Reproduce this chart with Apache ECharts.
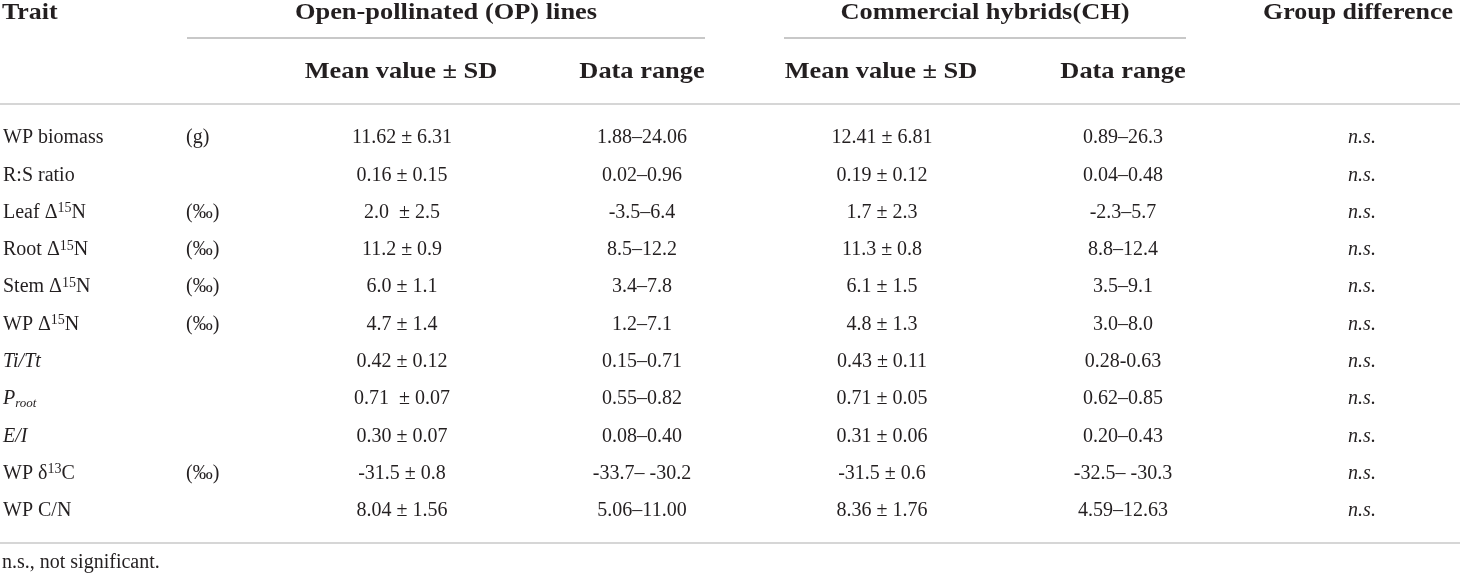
<!DOCTYPE html>
<html><head><meta charset="utf-8">
<script src="https://cdn.jsdelivr.net/npm/echarts@6/dist/echarts.min.js"></script>
<style>html,body{margin:0;padding:0;background:#fff}#c{width:1460px;height:577px}</style>
</head><body><div id="c"></div>
<script>
// ---- table content ----
const traits = ['WP biomass','R:S ratio','Leaf Δ{sup|15}N','Root Δ{sup|15}N','Stem Δ{sup|15}N','WP Δ{sup|15}N','{it|Ti/Tt}','{it|P}{sub|root}','{it|E/I}','WP δ{sup|13}C','WP C/N'];
const units = ['(g)','','(‰)','(‰)','(‰)','(‰)','','','','(‰)',''];
const opMean = ['11.62 ± 6.31','0.16 ± 0.15','2.0  ± 2.5','11.2 ± 0.9','6.0 ± 1.1','4.7 ± 1.4','0.42 ± 0.12','0.71  ± 0.07','0.30 ± 0.07','-31.5 ± 0.8','8.04 ± 1.56'];
const opRange = ['1.88–24.06','0.02–0.96','-3.5–6.4','8.5–12.2','3.4–7.8','1.2–7.1','0.15–0.71','0.55–0.82','0.08–0.40','-33.7– -30.2','5.06–11.00'];
const chMean = ['12.41 ± 6.81','0.19 ± 0.12','1.7 ± 2.3','11.3 ± 0.8','6.1 ± 1.5','4.8 ± 1.3','0.43 ± 0.11','0.71 ± 0.05','0.31 ± 0.06','-31.5 ± 0.6','8.36 ± 1.76'];
const chRange = ['0.89–26.3','0.04–0.48','-2.3–5.7','8.8–12.4','3.5–9.1','3.0–8.0','0.28-0.63','0.62–0.85','0.20–0.43','-32.5– -30.3','4.59–12.63'];
const groupDiff = ['n.s.','n.s.','n.s.','n.s.','n.s.','n.s.','n.s.','n.s.','n.s.','n.s.','n.s.'];
const groupHeaders = ['Open-pollinated (OP) lines','Commercial hybrids(CH)'];
const subHeaders = ['Mean value ± SD','Data range','Mean value ± SD','Data range'];
const footnote = 'n.s., not significant.';

// ---- layout ----
const columnsData = [traits, units, opMean, opRange, chMean, chRange, groupDiff];
const columns = [
  {x: 3, align: 'left'},
  {x: 186, align: 'left'},
  {x: 402, align: 'center'},
  {x: 642, align: 'center'},
  {x: 882, align: 'center'},
  {x: 1123, align: 'center'},
  {x: 1362, align: 'center', italic: true}
];
const FONT = '"Liberation Serif", "Times New Roman", serif';
const INK = '#231f20';
const RULE = '#c8c8c8';
const BODY = 20;

const rich = {
  sup: {fontFamily: FONT, fontSize: 14, lineHeight: 15, verticalAlign: 'top', fill: INK},
  sub: {fontFamily: FONT, fontSize: 13, fontStyle: 'italic', lineHeight: 8, verticalAlign: 'bottom', fill: INK},
  it: {fontFamily: FONT, fontSize: BODY, fontStyle: 'italic', lineHeight: 22, fill: INK}
};

const cells = [];
columnsData.forEach((col, c) => {
  col.forEach((t, r) => { if (t !== '') cells.push([columns[c].x, r, c]); });
});

const chart = echarts.init(document.getElementById('c'), null, {renderer: 'canvas'});

function bold(x, y, text, align, sx) {
  return {type: 'text', x: x, y: y, scaleX: sx, style: {text: text, x: 0, y: 0, align: align, verticalAlign: 'middle',
    fontFamily: FONT, fontWeight: 'bold', fontSize: 24, fill: INK}};
}
function rule(x1, x2, y, w) {
  return {type: 'line', shape: {x1: x1, y1: y, x2: x2, y2: y}, style: {stroke: RULE, lineWidth: w}};
}

chart.setOption({
  animation: false,
  backgroundColor: '#fff',
  grid: {left: 0, right: 0, top: 118.35, bottom: 48.35},
  xAxis: {type: 'value', min: 0, max: 1460, show: false},
  yAxis: {type: 'category', data: traits, inverse: true, show: false},
  graphic: [
    bold(2, 13, 'Trait', 'left', 1.08),
    bold(446, 13, groupHeaders[0], 'center', 1.1),
    bold(985, 13, groupHeaders[1], 'center', 1.1),
    bold(1358, 13, 'Group difference', 'center', 1.08),
    bold(401, 72, subHeaders[0], 'center', 1.1),
    bold(642, 72, subHeaders[1], 'center', 1.1),
    bold(881, 72, subHeaders[2], 'center', 1.1),
    bold(1123, 72, subHeaders[3], 'center', 1.1),
    rule(187, 705, 38, 2),
    rule(784, 1186, 38, 2),
    rule(0, 1460, 104, 1.5),
    rule(0, 1460, 543, 1.5),
    {type: 'text', x: 2, y: 563, style: {text: footnote, x: 0, y: 0, align: 'left', verticalAlign: 'middle',
      fontFamily: FONT, fontSize: 20, fill: INK}}
  ],
  series: [{
    type: 'custom',
    coordinateSystem: 'cartesian2d',
    clip: false,
    encode: {x: 0, y: 1},
    data: cells,
    renderItem: function (params, api) {
      const c = api.value(2), r = api.value(1);
      const p = api.coord([api.value(0), r]);
      const col = columns[c];
      return {type: 'text', x: p[0], y: p[1] + 1, style: {
        text: columnsData[c][r], x: 0, y: 0, align: col.align, verticalAlign: 'middle',
        fontFamily: FONT, fontSize: BODY, fontStyle: col.italic ? 'italic' : 'normal',
        lineHeight: 22, fill: INK, rich: rich}};
    }
  }]
});
</script></body></html>
